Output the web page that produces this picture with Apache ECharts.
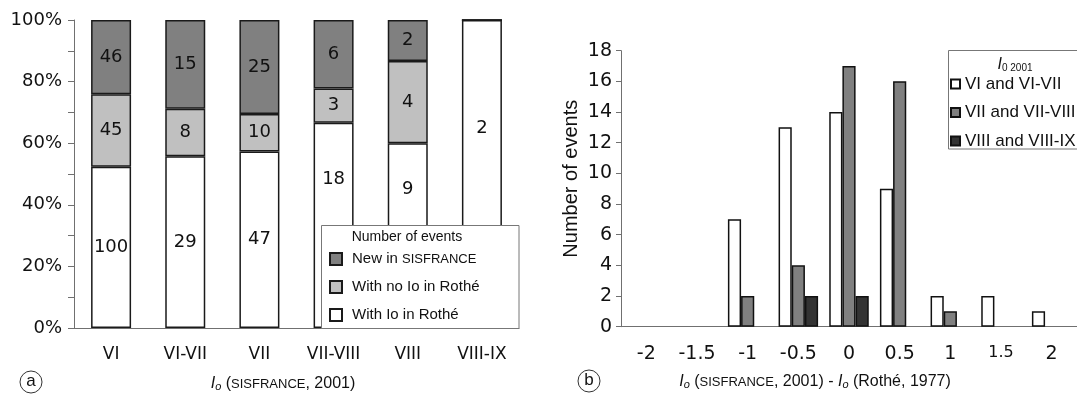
<!DOCTYPE html>
<html>
<head>
<meta charset="utf-8">
<script src="https://cdn.jsdelivr.net/npm/echarts@6/dist/echarts.min.js"></script>
<style>html,body{margin:0;padding:0;background:#fff;}#c{width:1077px;height:394px;}</style>
</head>
<body>
<div id="c"></div>
<script>
// ---- Data (a): number of events per Io (SISFRANCE, 2001) class
const categoriesA = ['VI', 'VI-VII', 'VII', 'VII-VIII', 'VIII', 'VIII-IX'];
const withIoRothe = [100, 29, 47, 18, 9, 2];
const noIoRothe = [45, 8, 10, 3, 4, 0];
const newSisfrance = [46, 15, 25, 6, 2, 0];
const seriesNamesA = ['With Io in Rothé', 'With no Io in Rothé', 'New in SISFRANCE'];

// ---- Data (b): Io difference histogram
const categoriesB = ['-2', '-1.5', '-1', '-0.5', '0', '0.5', '1', '1.5', '2'];
const grpVI = [0, 0, 7, 13, 14, 9, 2, 2, 1];
const grpVII = [0, 0, 2, 4, 17, 16, 1, 0, 0];
const grpVIII = [0, 0, 0, 2, 2, 0, 0, 0, 0];
const seriesNamesB = ['VI and VI-VII', 'VII and VII-VIII', 'VIII and VIII-IX'];

// labels of the bottom segment that are lifted above the legend box
const liftedA = ['VII-VIII', 'VIII', 'VIII-IX'];

const totals = categoriesA.map((c, i) => withIoRothe[i] + noIoRothe[i] + newSisfrance[i]);
function pctData(counts, lift) {
  return counts.map((v, i) => {
    const item = { value: v / totals[i] * 100, count: v };
    if (lift && liftedA.indexOf(categoriesA[i]) >= 0) item.label = { offset: [0, -46] };
    return item;
  });
}
// empty classes draw no bar at all
const countData = arr => arr.map(v => (v === 0 ? '-' : v));

const axisGrey = '#707070';
const ink = '#111';
const richName = {
  i: { fontStyle: 'italic', fontSize: 16, fontFamily: 'Liberation Sans', fill: ink, color: ink },
  sub: { fontStyle: 'italic', fontSize: 11, fontFamily: 'Liberation Sans', verticalAlign: 'bottom', lineHeight: 14, fill: ink, color: ink },
  sub0: { fontSize: 10, fontFamily: 'Liberation Sans', verticalAlign: 'bottom', lineHeight: 14, fill: ink, color: ink },
  n: { fontSize: 16, fontFamily: 'Liberation Sans', fill: ink, color: ink },
  sc: { fontSize: 13, fontFamily: 'Liberation Sans', fill: ink, color: ink }
};

const barLabelA = {
  show: true, position: 'inside', fontSize: 18, fontFamily: 'DejaVu Sans', color: ink,
  formatter: p => (p.data.count > 0 ? String(p.data.count) : '')
};
const borderA = { borderColor: '#1a1a1a', borderWidth: 1.5 };
const borderB = { borderColor: '#111', borderWidth: 1.5 };

const chart = echarts.init(document.getElementById('c'));
chart.setOption({
  animation: false,
  backgroundColor: '#fff',
  textStyle: { fontFamily: 'Liberation Sans', color: ink },
  grid: [
    { left: 74, top: 20, width: 445, height: 308 },
    { left: 621, top: 50.7, width: 465, height: 276 }
  ],
  xAxis: [
    {
      gridIndex: 0, type: 'category', data: categoriesA,
      axisLine: { lineStyle: { color: axisGrey } },
      axisTick: { length: 5, lineStyle: { color: axisGrey } },
      axisLabel: { margin: 18, fontSize: 17, fontFamily: 'DejaVu Sans', color: ink }
    },
    {
      gridIndex: 1, type: 'category',
      data: categoriesB.map(c => (c === '1.5' ? { value: c, textStyle: { fontSize: 16 } } : c)),
      axisLine: { lineStyle: { color: axisGrey } },
      axisTick: { length: 5, lineStyle: { color: axisGrey } },
      axisLabel: { margin: 18, fontSize: 19, fontFamily: 'DejaVu Sans', color: ink }
    }
  ],
  yAxis: [
    {
      gridIndex: 0, type: 'value', min: 0, max: 100, interval: 10,
      axisLine: { show: true, lineStyle: { color: axisGrey } },
      axisTick: { show: true, length: 6, lineStyle: { color: axisGrey } },
      splitLine: { show: false },
      axisLabel: { margin: 12, fontSize: 18, fontFamily: 'DejaVu Sans', color: ink,
        formatter: v => (v % 20 === 0 ? v + '%' : '') }
    },
    {
      gridIndex: 1, type: 'value', min: 0, max: 18, interval: 2,
      name: 'Number of events', nameLocation: 'middle', nameGap: 40,
      nameTextStyle: { fontSize: 20, fontFamily: 'Liberation Sans', color: ink, padding: [0, 0, 0, 20] },
      axisLine: { show: true, lineStyle: { color: axisGrey } },
      axisTick: { show: true, length: 5, lineStyle: { color: axisGrey } },
      splitLine: { show: false },
      axisLabel: { margin: 9, fontSize: 19, fontFamily: 'DejaVu Sans', color: ink }
    }
  ],
  legend: [
    {
      z: 100, orient: 'vertical', left: 329, top: 251, padding: 0, icon: 'rect',
      itemWidth: 12, itemHeight: 12, itemGap: 12,
      data: [seriesNamesA[2], seriesNamesA[1], seriesNamesA[0]],
      formatter: name => name.replace('SISFRANCE', '{sc|SISFRANCE}'),
      textStyle: { fontSize: 15, lineHeight: 16, color: ink, fontFamily: 'Liberation Sans', padding: [0, 0, 0, 5],
        rich: { sc: { fontSize: 13, fontFamily: 'Liberation Sans', color: ink } } }
    },
    {
      z: 100, orient: 'vertical', left: 950, top: 75, padding: 0, icon: 'rect',
      itemWidth: 9, itemHeight: 9, itemGap: 10.5,
      data: seriesNamesB,
      textStyle: { fontSize: 17, lineHeight: 18, color: ink, fontFamily: 'Liberation Sans' }
    }
  ],
  graphic: [
    { type: 'rect', z: 50, shape: { x: 321.5, y: 225.5, width: 197.5, height: 103 },
      style: { fill: '#fff', stroke: '#777', lineWidth: 1 } },
    { type: 'text', z: 60, x: 351.7, y: 237,
      style: { text: 'Number of events', font: '14px "Liberation Sans"', fill: ink, verticalAlign: 'middle' } },
    { type: 'rect', z: 50, shape: { x: 948.5, y: 50.5, width: 140, height: 98.5 },
      style: { fill: '#fff', stroke: '#777', lineWidth: 1 } },
    { type: 'text', z: 60, x: 1015, y: 65,
      style: { text: '{i|I}{sub0|0 2001}', align: 'center', verticalAlign: 'middle', rich: richName } },
    { type: 'text', z: 60, x: 283, y: 384,
      style: { text: '{i|I}{sub|o}{n| (}{sc|SISFRANCE}{n|, 2001)}', align: 'center', verticalAlign: 'middle', rich: richName } },
    { type: 'text', z: 60, x: 815, y: 382,
      style: { text: '{i|I}{sub|o}{n| (}{sc|SISFRANCE}{n|, 2001) - }{i|I}{sub|o}{n| (Rothé, 1977)}', align: 'center', verticalAlign: 'middle', rich: richName } },
    { type: 'circle', z: 60, shape: { cx: 31, cy: 382, r: 11 }, style: { fill: 'none', stroke: '#333', lineWidth: 1 } },
    { type: 'text', z: 60, x: 31, y: 381,
      style: { text: 'a', font: '17px "Liberation Sans"', fill: ink, align: 'center', verticalAlign: 'middle' } },
    { type: 'circle', z: 60, shape: { cx: 589, cy: 381, r: 11 }, style: { fill: 'none', stroke: '#333', lineWidth: 1 } },
    { type: 'text', z: 60, x: 589, y: 380,
      style: { text: 'b', font: '17px "Liberation Sans"', fill: ink, align: 'center', verticalAlign: 'middle' } }
  ],
  series: [
    { name: seriesNamesA[0], type: 'bar', stack: 'a', xAxisIndex: 0, yAxisIndex: 0, barWidth: 40,
      data: pctData(withIoRothe, true), itemStyle: Object.assign({ color: '#ffffff' }, borderA), label: barLabelA },
    { name: seriesNamesA[1], type: 'bar', stack: 'a', xAxisIndex: 0, yAxisIndex: 0, barWidth: 40,
      data: pctData(noIoRothe, false), itemStyle: Object.assign({ color: '#c0c0c0' }, borderA), label: barLabelA },
    { name: seriesNamesA[2], type: 'bar', stack: 'a', xAxisIndex: 0, yAxisIndex: 0, barWidth: 40,
      data: pctData(newSisfrance, false), itemStyle: Object.assign({ color: '#808080' }, borderA), label: barLabelA },

    { name: seriesNamesB[0], type: 'bar', xAxisIndex: 1, yAxisIndex: 1, barGap: '0%', barCategoryGap: '22%',
      data: countData(grpVI), itemStyle: Object.assign({ color: '#ffffff' }, borderB) },
    { name: seriesNamesB[1], type: 'bar', xAxisIndex: 1, yAxisIndex: 1, barGap: '0%', barCategoryGap: '22%',
      data: countData(grpVII), itemStyle: Object.assign({ color: '#808080' }, borderB) },
    { name: seriesNamesB[2], type: 'bar', xAxisIndex: 1, yAxisIndex: 1, barGap: '0%', barCategoryGap: '22%',
      data: countData(grpVIII), itemStyle: Object.assign({ color: '#333333' }, borderB) }
  ]
});
</script>
</body>
</html>
